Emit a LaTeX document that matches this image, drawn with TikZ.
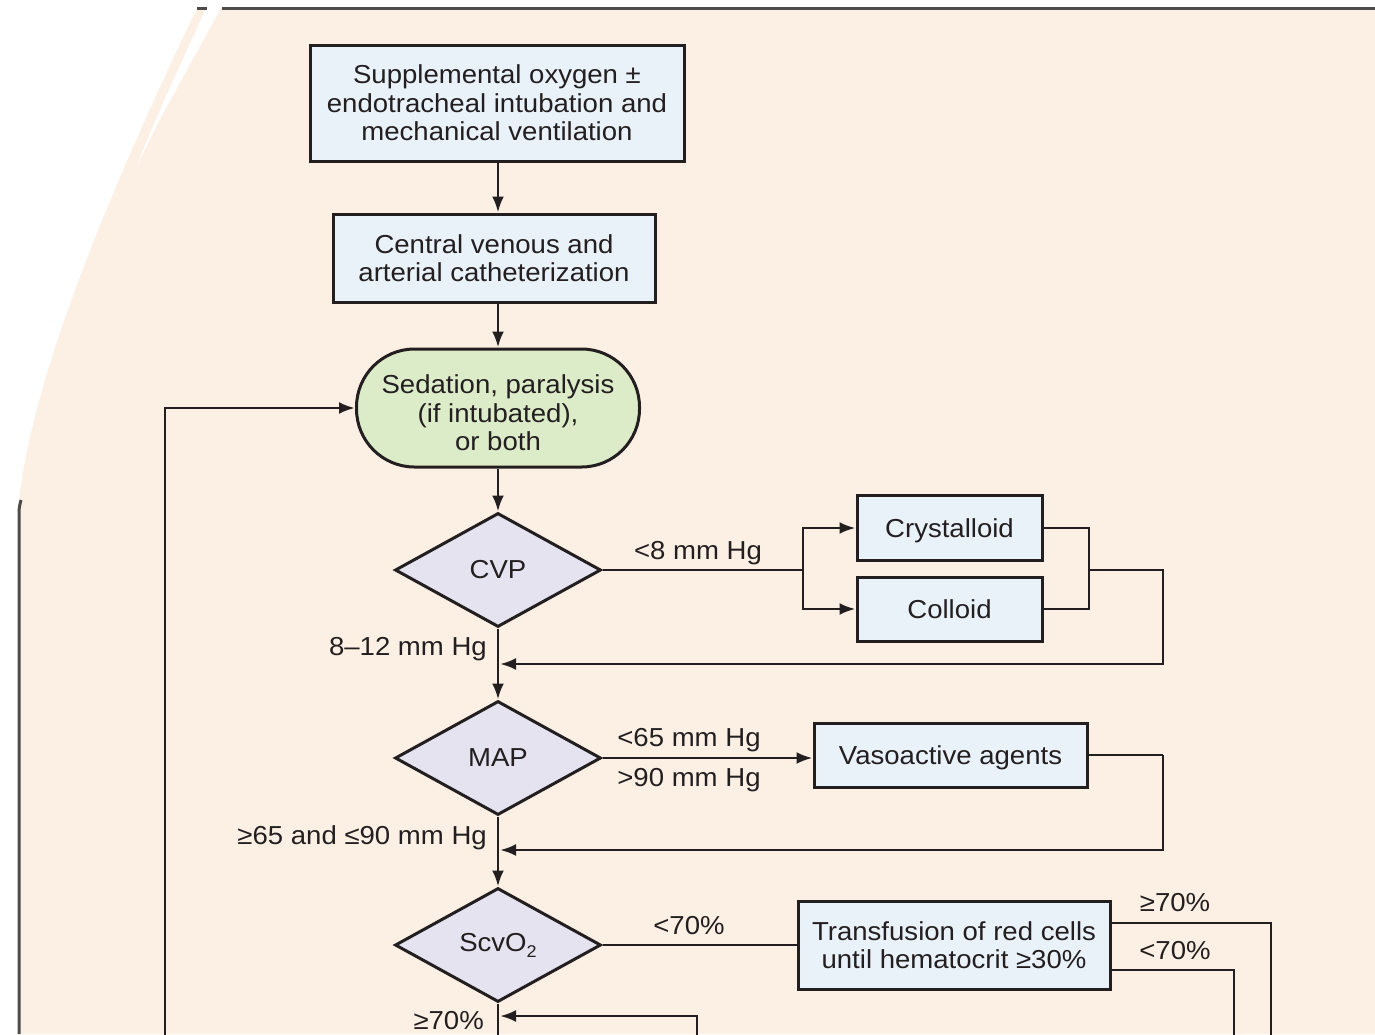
\documentclass[tikz,border=0pt]{standalone}
\usepackage{fontspec}
\setmainfont{Liberation Sans}[FakeStretch=1.06]
\usetikzlibrary{shapes.geometric,arrows.meta,calc}
\definecolor{peach}{HTML}{FCF0E4}
\definecolor{edgec}{HTML}{4E4C4A}
\definecolor{linec}{HTML}{231F20}
\definecolor{boxblue}{HTML}{E9F1F9}
\definecolor{dialav}{HTML}{E5E3F0}
\definecolor{stadgreen}{HTML}{DCEBC8}
\definecolor{txt}{HTML}{231F20}
\begin{document}
\begin{tikzpicture}[x=1pt,y=-1pt,
  base/.style={draw=linec, line width=3pt, text=txt, align=center, inner sep=0pt,
    font=\fontsize{26}{28.5}\selectfont},
  bluebox/.style={base, rectangle, fill=boxblue},
  dia/.style={base, diamond, fill=dialav, aspect=1.8, minimum width=206pt, minimum height=114pt},
  stad/.style={base, rectangle, fill=stadgreen, rounded corners=58pt},
  conn/.style={draw=linec, line width=2.8pt},
  arr/.style={conn, -{Latex[length=16pt,width=12pt]}},
  lbl/.style={text=txt, inner sep=0pt, font=\fontsize{26}{28.5}\selectfont}
]
\useasboundingbox (0,0) rectangle (1375,1034);
% background sheet
\fill[white] (0,0) rectangle (1375,1034);
\fill[peach] (197,8) -- (1375,8) -- (1375,1034) -- (18,1034) -- (18,510)
  .. controls (30,380) and (110,190) .. (197,8) -- cycle;
\fill[white] (207,6) -- (222,6) .. controls (190,65) and (158,120) .. (137,166)
  .. controls (155,118) and (182,62) .. (207,6) -- cycle;
\draw[edgec, line width=3pt] (197,8) -- (207,8);
\draw[edgec, line width=3pt] (222,8) -- (1375,8);
\draw[edgec, line width=3pt] (19,1034) -- (19,512) .. controls (19,508) and (20,504) .. (21,500);

% nodes
\node[bluebox, minimum width=374pt, minimum height=116pt] (oxy) at (497,103)
  {Supplemental oxygen ±\\endotracheal intubation and\\mechanical ventilation};
\node[bluebox, minimum width=322pt, minimum height=88pt] (cath) at (494,258)
  {Central venous and\\arterial catheterization};
\node[stad, minimum width=283pt, minimum height=118pt] (sed) at (498,408)
  {\parbox[c][108pt][c]{270pt}{\centering\vspace*{10pt}Sedation, paralysis\\(if intubated),\\or both}};
\node[dia] (cvp) at (498,570) {CVP};
\node[bluebox, minimum width=185pt, minimum height=65pt, text depth=0pt] (crys) at (949.5,528) {Crystalloid};
\node[bluebox, minimum width=185pt, minimum height=64pt] (coll) at (949.5,609) {Colloid};
\node[dia] (map) at (498,758) {MAP};
\node[bluebox, minimum width=273pt, minimum height=64pt, text depth=0pt] (vaso) at (950.5,755) {Vasoactive agents};
\node[dia] (scv) at (498,945) {ScvO\raisebox{-6pt}{\fontsize{17}{17}\selectfont 2}};
\node[bluebox, minimum width=312pt, minimum height=88pt] (trans) at (954,945)
  {Transfusion of red cells\\until hematocrit ≥30\%};

% coordinates
\coordinate (split) at (803,570);
\coordinate (rj) at (1089,570);
\coordinate (r1) at (1163,570);
\coordinate (j1) at (500,664);
\coordinate (r2) at (1163,755);
\coordinate (j2) at (500,850);
\coordinate (t1) at (1271,923);
\coordinate (t1b) at (1271,1040);
\coordinate (t2) at (1234,970);
\coordinate (t2b) at (1234,1040);
\coordinate (scvb) at (498,1040);
\coordinate (j3) at (500,1016);
\coordinate (j3r) at (697,1016);
\coordinate (j3b) at (697,1040);
\coordinate (lb) at (165,1040);
\coordinate (lt) at (165,408);

% connectors
\draw[arr] (oxy.south -| sed.north) -- (cath.north -| sed.north);
\draw[arr] (cath.south -| sed.north) -- (sed.north);
\draw[arr] (sed) -- (cvp);
\draw[conn] (cvp.east) -- (split);
\draw[arr] (split) |- (crys.west);
\draw[arr] (split) |- (coll.west);
\draw[conn] (crys.east) -| (rj) |- (coll.east);
\draw[arr] (rj) -- (r1) |- (j1);
\draw[arr] (cvp) -- (map);
\draw[arr] (map.east) -- (vaso.west |- map.east);
\draw[conn] (vaso.east) -- (r2);
\draw[arr] (r2) |- (j2);
\draw[arr] (map) -- (scv);
\draw[conn] (scv.east) -- (trans.west);
\draw[conn] ([yshift=22pt]trans.east) -- (t1) -- (t1b);
\draw[conn] ([yshift=-25pt]trans.east) -- (t2) -- (t2b);
\draw[conn] (scv.south) -- (scvb);
\draw[arr] (j3b) -- (j3r) -- (j3);
\draw[arr] (lb) -- (lt) -- (sed.west);

% labels
\node[lbl] (l1) at (698,553) {<8 mm Hg};
\node[lbl, anchor=east] (l2) at (487,649) {8–12 mm Hg};
\node[lbl] (l3) at (689,740) {<65 mm Hg};
\node[lbl] (l4) at (689,780) {>90 mm Hg};
\node[lbl, anchor=east] (l5) at (487,838) {≥65 and ≤90 mm Hg};
\node[lbl] (l6) at (689,926) {<70\%};
\node[lbl] (l7) at (1175,903) {≥70\%};
\node[lbl] (l8) at (1175,951) {<70\%};
\node[lbl, anchor=east] (l9) at (484,1021) {≥70\%};
\end{tikzpicture}
\end{document}
